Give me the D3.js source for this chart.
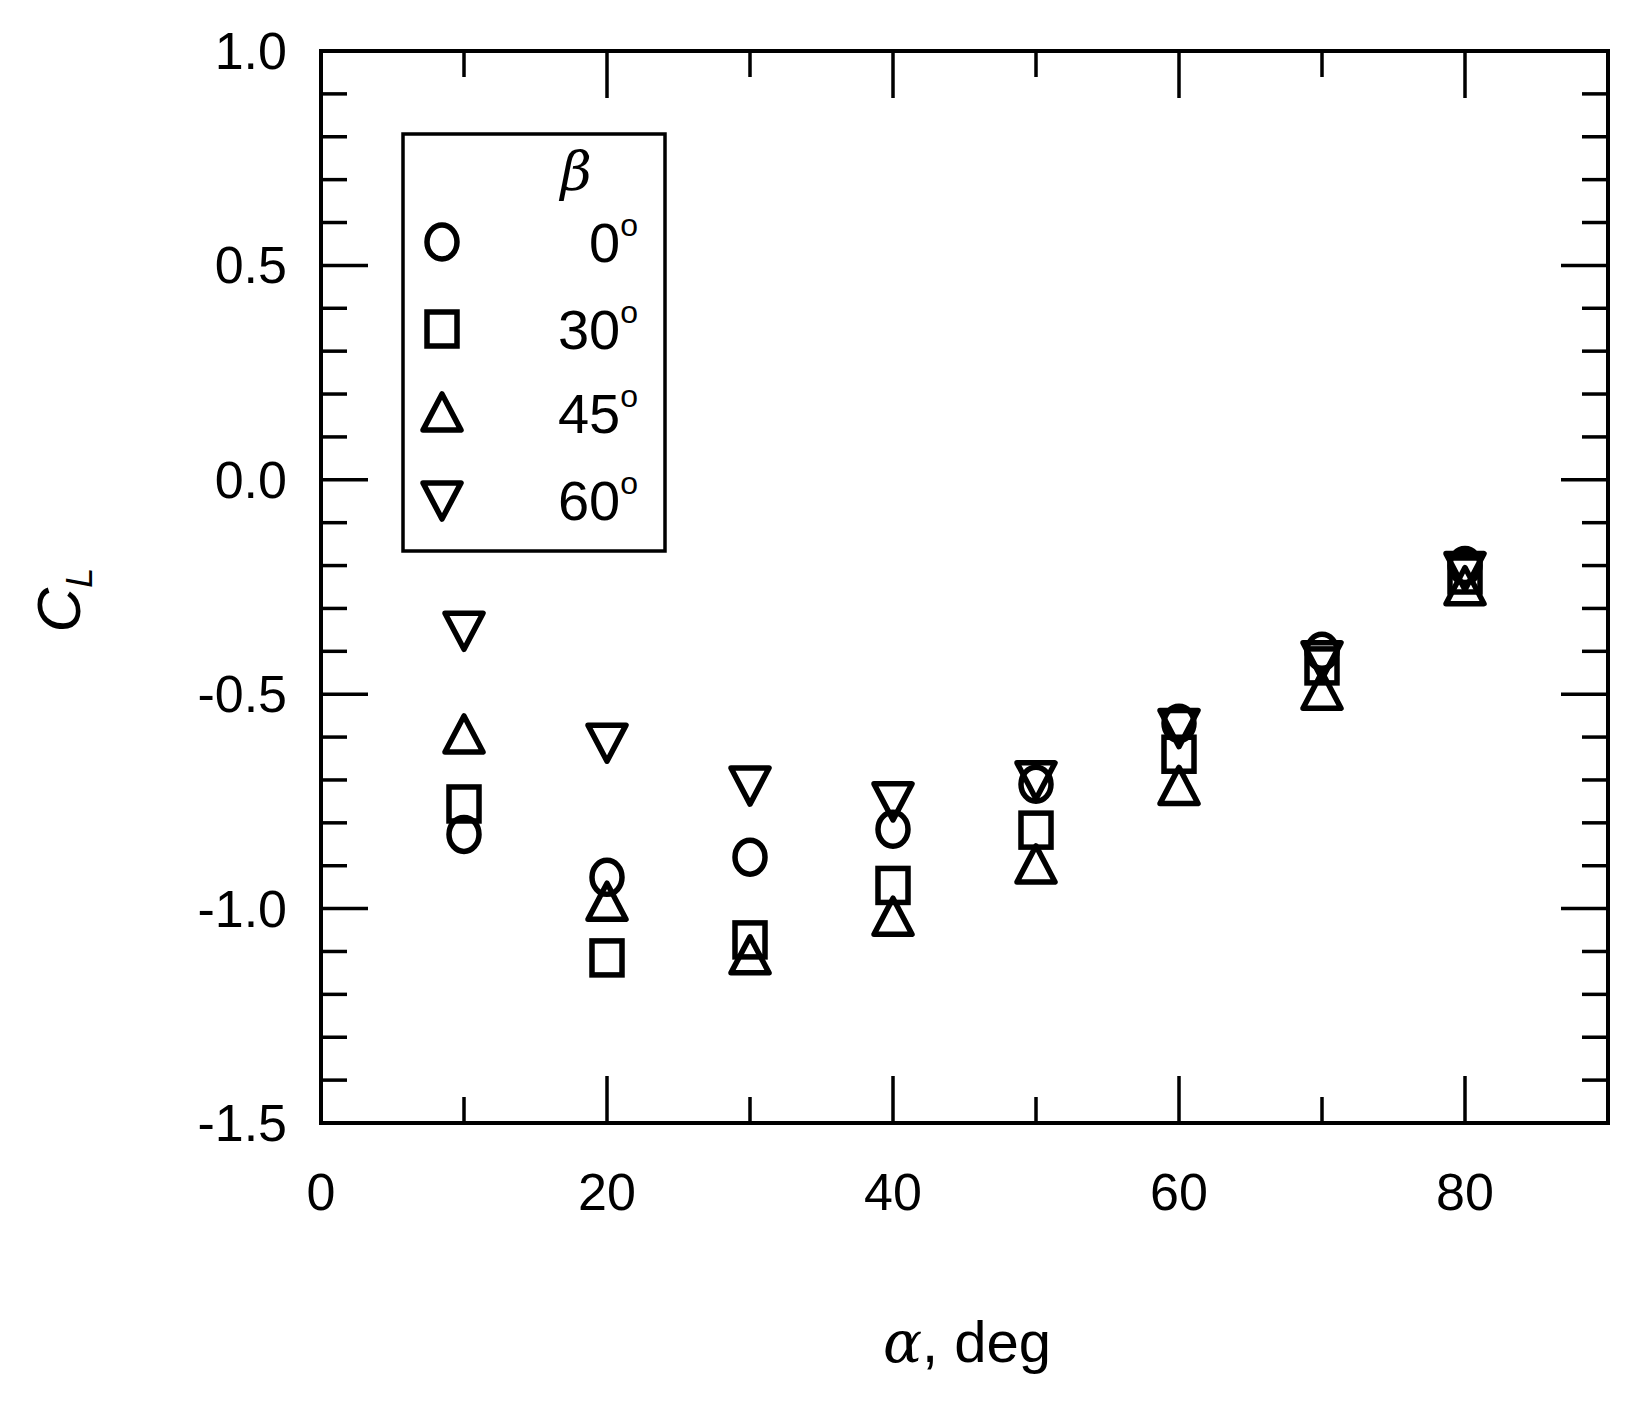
<!DOCTYPE html>
<html><head><meta charset="utf-8">
<script src="https://cdn.jsdelivr.net/npm/d3@7"></script>
<style>body{margin:0;background:#fff}</style></head>
<body><svg id="c" width="1640" height="1405"></svg>
<script>
const alpha=[10,20,30,40,50,60,70,80];
const beta0=[-0.827,-0.927,-0.88,-0.815,-0.71,-0.568,-0.40,-0.20];
const beta30=[-0.756,-1.115,-1.073,-0.946,-0.817,-0.64,-0.434,-0.222];
const beta45=[-0.595,-0.985,-1.11,-1.02,-0.898,-0.715,-0.493,-0.249];
const beta60=[-0.351,-0.612,-0.712,-0.749,-0.70,-0.578,-0.42,-0.212];
const xTicks=[0,20,40,60,80];
const yTicks=[-1.5,-1.0,-0.5,0.0,0.5,1.0];
const legendLabels=["0","30","45","60"];
const symbols=["circle","square","up","down"];

const svg=d3.select("#c");
const L=321,R=1608,T=51,B=1123;
const x=d3.scaleLinear().domain([0,90]).range([L,R]);
const y=d3.scaleLinear().domain([-1.5,1.0]).range([B,T]);
const font="Liberation Sans, Arial, sans-serif";
const g=svg.append("g");
const minorY=d3.range(-15,11).map(v=>v/10);
minorY.forEach(v=>{
  const major=Math.abs(v*2-Math.round(v*2))<1e-6;
  const len=major?47:26;
  g.append("line").attr("x1",L).attr("x2",L+len).attr("y1",y(v)).attr("y2",y(v)).attr("stroke","#000").attr("stroke-width",3.5);
  g.append("line").attr("x1",R).attr("x2",R-len).attr("y1",y(v)).attr("y2",y(v)).attr("stroke","#000").attr("stroke-width",3.5);
});
d3.range(0,91,10).forEach(v=>{
  const major=v%20===0;
  const len=major?47:26;
  g.append("line").attr("x1",x(v)).attr("x2",x(v)).attr("y1",B).attr("y2",B-len).attr("stroke","#000").attr("stroke-width",3.5);
  g.append("line").attr("x1",x(v)).attr("x2",x(v)).attr("y1",T).attr("y2",T+len).attr("stroke","#000").attr("stroke-width",3.5);
});
g.append("rect").attr("x",L).attr("y",T).attr("width",R-L).attr("height",B-T).attr("fill","none").attr("stroke","#000").attr("stroke-width",4);
yTicks.forEach(v=>g.append("text").attr("x",287).attr("y",y(v)+18).attr("text-anchor","end").attr("font-family",font).attr("font-size",52).text(v.toFixed(1)));
xTicks.forEach(v=>g.append("text").attr("x",x(v)).attr("y",1210).attr("text-anchor","middle").attr("font-family",font).attr("font-size",52).text(v));
const xt=svg.append("text").attr("x",967).attr("y",1362).attr("text-anchor","middle").attr("font-family",font).attr("font-size",58);
xt.append("tspan").attr("font-family","DejaVu Serif, serif").attr("font-style","italic").text("α");
xt.append("tspan").text(", deg");
const yt=svg.append("text").attr("transform","translate(80,600) rotate(-90)").attr("text-anchor","middle").attr("font-family",font).attr("font-size",62);
yt.append("tspan").attr("font-style","italic").text("C");
yt.append("tspan").attr("font-style","italic").attr("font-size",36).attr("dy",12).text("L");

function marker(sel,type,cx,cy){
  const s=19, sw=5.5;
  if(type==="circle") sel.append("ellipse").attr("cx",cx).attr("cy",cy).attr("rx",15).attr("ry",17).attr("fill","none").attr("stroke","#000").attr("stroke-width",sw);
  else if(type==="square") sel.append("rect").attr("x",cx-15).attr("y",cy-17).attr("width",30).attr("height",34).attr("fill","none").attr("stroke","#000").attr("stroke-width",sw);
  else if(type==="up") sel.append("path").attr("d",`M${cx},${cy-s}L${cx+s},${cy+s*0.9}L${cx-s},${cy+s*0.9}Z`).attr("fill","none").attr("stroke","#000").attr("stroke-width",sw).attr("stroke-linejoin","round");
  else sel.append("path").attr("d",`M${cx},${cy+s}L${cx+s},${cy-s*0.9}L${cx-s},${cy-s*0.9}Z`).attr("fill","none").attr("stroke","#000").attr("stroke-width",sw).attr("stroke-linejoin","round");
}
const series=[beta0,beta30,beta45,beta60];
series.forEach((vals,i)=>vals.forEach((v,j)=>marker(svg,symbols[i],x(alpha[j]),y(v))));
svg.append("rect").attr("x",403).attr("y",134).attr("width",262).attr("height",417).attr("fill","#fff").attr("stroke","#000").attr("stroke-width",3.5);
svg.append("text").attr("x",576).attr("y",190).attr("text-anchor","middle").attr("font-family","DejaVu Serif, serif").attr("font-style","italic").attr("font-size",54).text("β");
const rows=[242,329,413,500];
legendLabels.forEach((lab,i)=>{
  marker(svg,symbols[i],442,rows[i]);
  const t=svg.append("text").attr("x",638).attr("y",rows[i]+20).attr("text-anchor","end").attr("font-family",font).attr("font-size",56);
  t.append("tspan").text(lab);
  t.append("tspan").attr("font-size",32).attr("dy",-26).text("o");
});
</script></body></html>
